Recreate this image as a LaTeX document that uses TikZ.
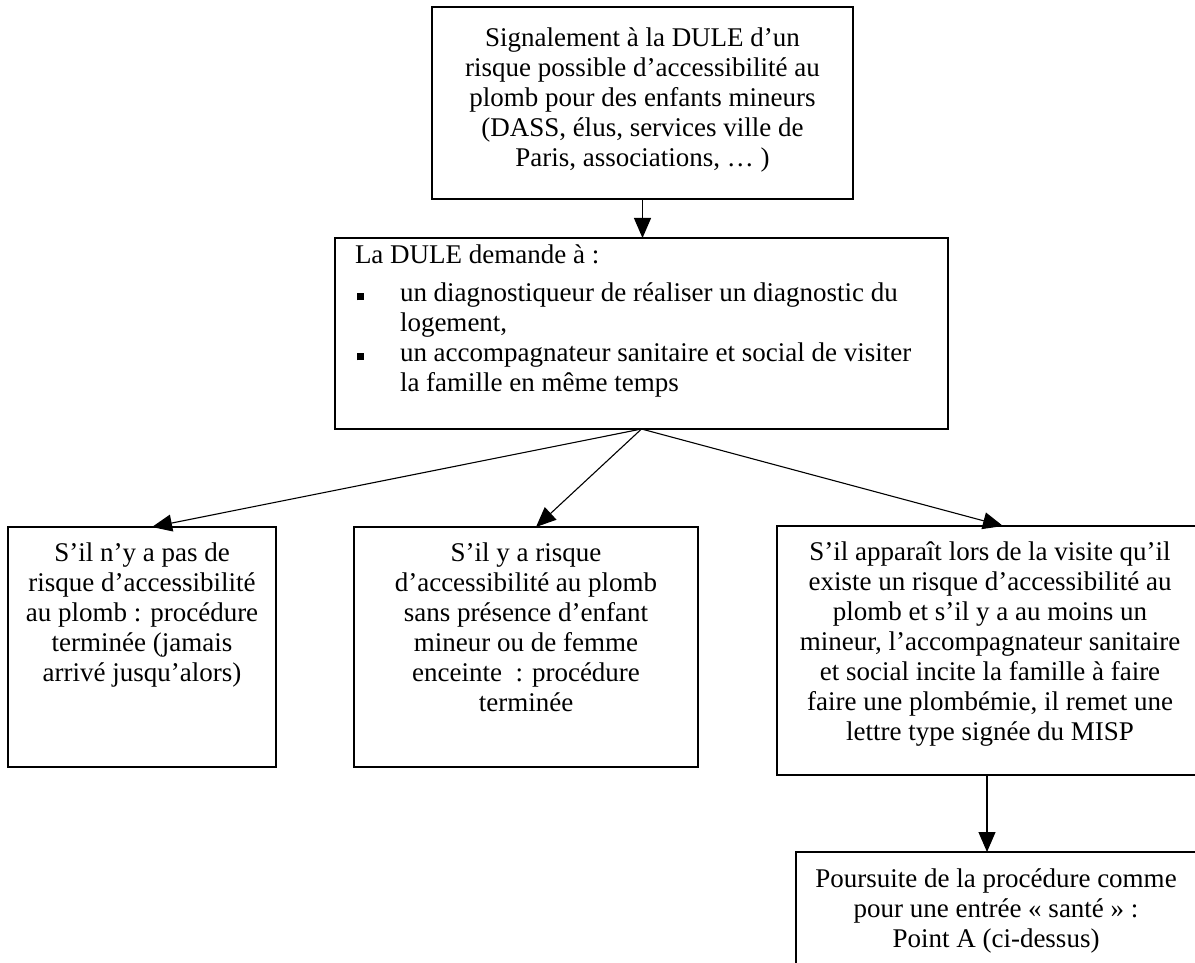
\documentclass[tikz,border=0pt]{standalone}
\usepackage{fontspec}
\setmainfont{Liberation Serif}
\usetikzlibrary{arrows.meta,calc}
\tikzset{
  box/.style={draw=black, line width=0.6pt, inner sep=0pt, outer sep=0pt, anchor=north west},
  arr/.style={line width=0.55pt, -{Triangle[length=10pt,width=8.5pt]}},
}
\newcommand{\bt}[4]{\parbox[c][#2][t]{#1}{\fontsize{13.5pt}{15pt}\selectfont\vspace*{#3}\centering\strut #4\par}}
\newcommand{\bul}{\makebox[22.5pt][l]{\hspace*{1pt}\rule[0.3pt]{3.5pt}{3.5pt}}}
\begin{document}
\begin{tikzpicture}[x=0.5pt,y=-0.5pt]
\useasboundingbox (0,0) rectangle (1195,963);
\fill[white] (0,0) rectangle (1195,963);

\node[box] (top) at (432,7) {\bt{210.5pt}{96pt}{9.5pt}{Signalement à la DULE d’un\\
risque possible d’accessibilité au\\
plomb pour des enfants mineurs\\
(DASS, élus, services ville de\\
Paris, associations, … )}};

\node[box] (mid) at (335,238) {\parbox[c][95.5pt][t]{306.5pt}{\fontsize{13.5pt}{15pt}\selectfont\vspace*{2pt}\leftskip=10pt\noindent\strut La DULE demande à :\\[4pt]
\bul un diagnostiqueur de réaliser un diagnostic du\\
\hspace*{22.5pt}logement,\\
\bul un accompagnateur sanitaire et social de visiter\\
\hspace*{22.5pt}la famille en même temps\par}};

\node[box] (lb) at (8,527) {\bt{134pt}{120pt}{6.5pt}{S’il n’y a pas de\\
risque d’accessibilité\\
au plomb : procédure\\
terminée (jamais\\
arrivé jusqu’alors)}};

\node[box] (cb) at (354,527) {\bt{172pt}{120pt}{6.5pt}{S’il y a risque\\
d’accessibilité au plomb\\
sans présence d’enfant\\
mineur ou de femme\\
enceinte~ : procédure\\
terminée}};

\node[box] (rb) at (777,526) {\bt{213pt}{124.5pt}{6.5pt}{S’il apparaît lors de la visite qu’il\\
existe un risque d’accessibilité au\\
plomb et s’il y a au moins un\\
mineur, l’accompagnateur sanitaire\\
et social incite la famille à faire\\
faire une plombémie, il remet une\\
lettre type signée du MISP}};

\node[box] (bb) at (796,852) {\bt{200pt}{70pt}{7pt}{Poursuite de la procédure comme\\
pour une entrée « santé » :\\
Point A (ci-dessus)}};

\draw[arr] (top.south) -- (top.south |- mid.north);
\draw[arr] (mid.south) -- ($(lb.north)+(10,0)$);
\draw[arr] (mid.south) -- ($(cb.north)+(10,0)$);
\draw[arr] (mid.south) -- ($(rb.north)+(13,0)$);
\draw[arr] ($(rb.south)+(-3,0)$) -- ($(rb.south |- bb.north)+(-3,0)$);
\end{tikzpicture}
\end{document}
